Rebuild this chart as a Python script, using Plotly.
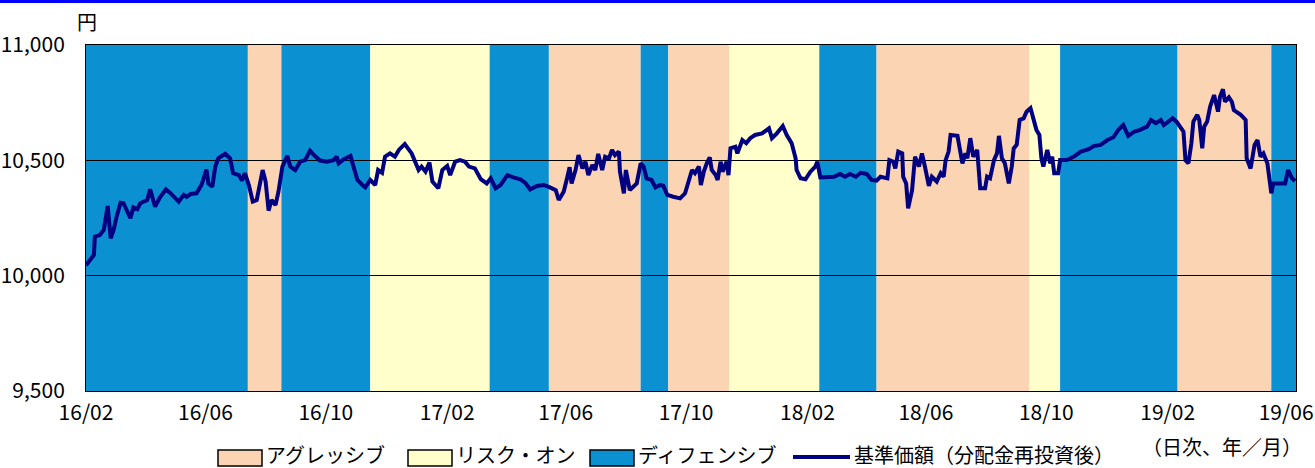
import plotly.graph_objects as go

# ---------------- data ----------------
nav_dates = [
    "2016-02-01", "2016-02-09", "2016-02-10", "2016-02-15", "2016-02-19", "2016-02-23", "2016-02-26", "2016-02-29",
    "2016-03-03", "2016-03-07", "2016-03-10", "2016-03-13", "2016-03-17", "2016-03-20", "2016-03-24", "2016-03-27",
    "2016-04-03", "2016-04-06", "2016-04-11", "2016-04-16", "2016-04-22", "2016-04-26",
    "2016-05-05", "2016-05-10", "2016-05-13", "2016-05-17", "2016-05-23", "2016-05-28",
    "2016-06-02", "2016-06-04", "2016-06-08", "2016-06-11", "2016-06-14", "2016-06-21", "2016-06-26", "2016-06-29",
    "2016-07-05", "2016-07-08", "2016-07-11", "2016-07-15", "2016-07-19", "2016-07-23", "2016-07-27", "2016-07-29",
    "2016-08-01", "2016-08-04", "2016-08-07", "2016-08-11", "2016-08-14", "2016-08-18", "2016-08-23", "2016-08-26", "2016-08-31",
    "2016-09-05", "2016-09-10", "2016-09-15", "2016-09-19", "2016-09-25",
    "2016-10-02", "2016-10-09", "2016-10-12", "2016-10-14", "2016-10-19", "2016-10-26", "2016-10-29",
    "2016-11-02", "2016-11-07", "2016-11-10", "2016-11-15", "2016-11-20", "2016-11-23", "2016-11-27", "2016-11-30",
    "2016-12-05", "2016-12-10", "2016-12-14", "2016-12-20", "2016-12-27",
    "2017-01-03", "2017-01-06", "2017-01-10", "2017-01-14", "2017-01-17", "2017-01-23", "2017-01-27",
    "2017-02-01", "2017-02-04", "2017-02-09", "2017-02-14", "2017-02-19", "2017-02-23",
    "2017-03-01", "2017-03-07", "2017-03-13", "2017-03-17", "2017-03-22", "2017-03-27",
    "2017-04-03", "2017-04-09", "2017-04-16", "2017-04-21", "2017-04-26",
    "2017-05-03", "2017-05-10", "2017-05-16", "2017-05-22", "2017-05-25", "2017-05-30",
    "2017-06-02", "2017-06-05", "2017-06-07", "2017-06-11", "2017-06-14", "2017-06-18", "2017-06-21", "2017-06-24", "2017-06-28",
    "2017-07-01", "2017-07-04", "2017-07-08", "2017-07-11", "2017-07-15", "2017-07-18", "2017-07-21", "2017-07-25", "2017-07-26", "2017-07-30",
    "2017-08-01", "2017-08-05", "2017-08-09", "2017-08-12", "2017-08-16", "2017-08-19", "2017-08-22", "2017-08-27", "2017-08-31",
    "2017-09-05", "2017-09-08", "2017-09-12", "2017-09-18", "2017-09-25", "2017-09-30",
    "2017-10-04", "2017-10-07", "2017-10-10", "2017-10-14", "2017-10-16", "2017-10-19", "2017-10-22", "2017-10-25", "2017-10-27", "2017-10-31",
    "2017-11-02", "2017-11-05", "2017-11-07", "2017-11-11", "2017-11-13", "2017-11-15", "2017-11-20", "2017-11-22", "2017-11-27",
    "2017-12-01", "2017-12-05", "2017-12-10", "2017-12-17", "2017-12-24", "2017-12-27",
    "2018-01-01", "2018-01-07", "2018-01-11", "2018-01-16", "2018-01-20", "2018-01-21", "2018-01-25", "2018-01-30",
    "2018-02-04", "2018-02-09", "2018-02-11", "2018-02-14", "2018-02-21", "2018-02-28",
    "2018-03-06", "2018-03-11", "2018-03-16", "2018-03-22", "2018-03-27",
    "2018-04-02", "2018-04-07", "2018-04-12", "2018-04-16", "2018-04-23", "2018-04-25", "2018-04-29",
    "2018-05-01", "2018-05-04", "2018-05-08", "2018-05-09", "2018-05-12", "2018-05-14", "2018-05-18", "2018-05-21", "2018-05-25", "2018-05-28", "2018-05-31",
    "2018-06-04", "2018-06-07", "2018-06-12", "2018-06-16", "2018-06-19", "2018-06-21", "2018-06-24", "2018-06-26",
    "2018-07-03", "2018-07-08", "2018-07-11", "2018-07-13", "2018-07-16", "2018-07-19", "2018-07-23", "2018-07-26", "2018-07-31",
    "2018-08-02", "2018-08-05", "2018-08-09", "2018-08-12", "2018-08-14", "2018-08-17", "2018-08-20", "2018-08-24", "2018-08-27", "2018-08-29",
    "2018-09-01", "2018-09-04", "2018-09-08", "2018-09-11", "2018-09-15", "2018-09-18", "2018-09-21", "2018-09-24", "2018-09-26", "2018-09-28",
    "2018-10-02", "2018-10-05", "2018-10-07", "2018-10-09", "2018-10-13", "2018-10-15", "2018-10-22", "2018-10-29",
    "2018-11-05", "2018-11-13", "2018-11-18", "2018-11-25",
    "2018-12-02", "2018-12-08", "2018-12-13", "2018-12-18", "2018-12-23", "2018-12-29",
    "2019-01-04", "2019-01-11", "2019-01-15", "2019-01-20", "2019-01-25", "2019-01-28",
    "2019-02-01", "2019-02-06", "2019-02-10", "2019-02-14", "2019-02-17", "2019-02-19", "2019-02-22", "2019-02-25", "2019-02-27",
    "2019-03-03", "2019-03-05", "2019-03-08", "2019-03-10", "2019-03-13", "2019-03-16", "2019-03-20", "2019-03-24", "2019-03-26", "2019-03-29", "2019-03-31",
    "2019-04-04", "2019-04-07", "2019-04-09", "2019-04-16", "2019-04-21", "2019-04-22", "2019-04-26", "2019-04-30",
    "2019-05-03", "2019-05-06", "2019-05-09", "2019-05-13", "2019-05-17", "2019-05-19", "2019-05-26", "2019-05-31",
    "2019-06-03", "2019-06-07", "2019-06-10",
]
nav_values = [
    10045, 10090, 10169, 10176, 10198, 10302, 10162, 10198,
    10256, 10316, 10314, 10285, 10249, 10296, 10288, 10314,
    10328, 10374, 10299, 10340, 10374, 10360,
    10321, 10350, 10342, 10354, 10357, 10393,
    10460, 10400, 10386, 10473, 10509, 10528, 10509, 10444,
    10436, 10412, 10444, 10393, 10321, 10328, 10429, 10458,
    10408, 10282, 10328, 10306, 10364, 10473, 10519, 10473, 10458,
    10494, 10501, 10542, 10523, 10499,
    10494, 10501, 10516, 10487, 10504, 10519, 10473,
    10415, 10393, 10383, 10415, 10393, 10458, 10446, 10516,
    10530, 10516, 10545, 10571, 10530,
    10458, 10473, 10451, 10490, 10408, 10379, 10458,
    10476, 10436, 10494, 10501, 10494, 10473,
    10465, 10418, 10400, 10422, 10379, 10393,
    10436, 10426, 10418, 10403, 10374,
    10389, 10393, 10383, 10371, 10328, 10364,
    10415, 10470, 10400, 10458, 10523, 10465, 10494, 10436, 10480,
    10458, 10528, 10458, 10516, 10509, 10545, 10523, 10538, 10451, 10357,
    10458, 10371, 10389, 10400, 10487, 10473, 10422, 10415, 10383,
    10393, 10389, 10350, 10342, 10335, 10357,
    10422, 10458, 10444, 10473, 10393, 10451, 10487, 10513, 10458, 10436,
    10415, 10494, 10451, 10494, 10436, 10552, 10559, 10530, 10588,
    10574, 10596, 10610, 10617, 10639, 10596,
    10617, 10649, 10610, 10574, 10509, 10458, 10422, 10418,
    10451, 10473, 10494, 10426, 10426, 10429,
    10441, 10429, 10441, 10429, 10446,
    10441, 10415, 10412, 10429, 10422, 10501, 10494,
    10465, 10538, 10530, 10429, 10400, 10292, 10371, 10516, 10473, 10530, 10473,
    10389, 10429, 10408, 10444, 10429, 10501, 10538, 10610,
    10606, 10487, 10530, 10509, 10596, 10516, 10545, 10379, 10379,
    10429, 10422, 10501, 10530, 10606, 10509, 10487, 10400, 10473, 10552,
    10567, 10675, 10682, 10711, 10726, 10675, 10632, 10610, 10509, 10473,
    10545, 10487, 10516, 10444, 10444, 10501, 10501, 10516,
    10538, 10548, 10562, 10567,
    10588, 10600, 10632, 10653, 10606, 10624,
    10632, 10646, 10675, 10661, 10675, 10653,
    10668, 10682, 10668, 10646, 10624, 10501, 10487, 10574, 10668,
    10697, 10675, 10552, 10646, 10668, 10733, 10783, 10711, 10776, 10808, 10754,
    10773, 10754, 10718, 10697, 10675, 10509, 10465, 10567,
    10588, 10516, 10530, 10487, 10357, 10400, 10400, 10400,
    10458, 10422, 10410,
]

regime_start = ["2016-02-01", "2016-07-14", "2016-08-17", "2016-11-15", "2017-03-16", "2017-05-15",
                "2017-08-16", "2017-09-13", "2017-11-14", "2018-02-13", "2018-04-12", "2018-09-14",
                "2018-10-15", "2019-02-11", "2019-05-17"]
regime_end = ["2016-07-14", "2016-08-17", "2016-11-15", "2017-03-16", "2017-05-15", "2017-08-16",
              "2017-09-13", "2017-11-14", "2018-02-13", "2018-04-12", "2018-09-14", "2018-10-15",
              "2019-02-11", "2019-05-17", "2019-06-11"]
regime_type = ["defensive", "aggressive", "defensive", "riskon", "defensive", "aggressive",
               "defensive", "aggressive", "riskon", "defensive", "aggressive", "riskon",
               "defensive", "aggressive", "defensive"]

regime_names = {"aggressive": "アグレッシブ", "riskon": "リスク・オン", "defensive": "ディフェンシブ"}
regime_colors = {"aggressive": "#fbd4b4", "riskon": "#ffffcc", "defensive": "#0b90d2"}

x_tick_vals = ["2016-02-01", "2016-06-01", "2016-10-01", "2017-02-01", "2017-06-01", "2017-10-01",
               "2018-02-01", "2018-06-01", "2018-10-01", "2019-02-01", "2019-06-01"]
x_tick_text = ["16/02", "16/06", "16/10", "17/02", "17/06", "17/10", "18/02", "18/06", "18/10", "19/02", "19/06"]
y_tick_vals = [9500, 10000, 10500, 11000]
y_tick_text = ["9,500", "10,000", "10,500", "11,000"]

nav_name = "基準価額（分配金再投資後）"
unit_label = "円"
note_label = "（日次、年／月）"

# ---------------- figure ----------------
W, H = 1315, 468
ML, MR, MT, MB = 86, 19, 45, 77
PW, PH = W - ML - MR, H - MT - MB
FONT = "Noto Sans CJK JP"
LINE_COLOR = "#000080"


def px_x(px):
    return (px - ML) / PW


def px_y(py):
    return (H - MB - py) / PH


fig = go.Figure()
fig.add_trace(go.Scatter(x=nav_dates, y=nav_values, mode="lines",
                         line=dict(color=LINE_COLOR, width=4), name=nav_name,
                         showlegend=False, hoverinfo="skip"))

shapes = []
for s, e, t in zip(regime_start, regime_end, regime_type):
    shapes.append(dict(type="rect", xref="x", yref="y", x0=s, x1=e, y0=y_tick_vals[0], y1=y_tick_vals[-1],
                       fillcolor=regime_colors[t], line=dict(width=0), layer="below"))

# top blue rule of the page
shapes.append(dict(type="rect", xref="paper", yref="paper", x0=px_x(0), x1=px_x(W),
                   y0=px_y(3), y1=px_y(0), fillcolor="#0000ff", line=dict(width=0), layer="above"))

annotations = [
    dict(text=unit_label, xref="paper", yref="paper", x=px_x(87), y=px_y(21), showarrow=False,
         xanchor="center", yanchor="middle", font=dict(family=FONT, size=20, color="black")),
    dict(text=note_label, xref="paper", yref="paper", x=px_x(1140), y=px_y(446), showarrow=False,
         xanchor="left", yanchor="middle", font=dict(family=FONT, size=20, color="black")),
]

# manual legend
legend_items = [("aggressive", 218), ("riskon", 408), ("defensive", 590)]
for key, x0 in legend_items:
    shapes.append(dict(type="rect", xref="paper", yref="paper", x0=px_x(x0), x1=px_x(x0 + 44),
                       y0=px_y(466), y1=px_y(450), fillcolor=regime_colors[key],
                       line=dict(color="black", width=1.5), layer="above"))
    annotations.append(dict(text=regime_names[key], xref="paper", yref="paper", x=px_x(x0 + 46), y=px_y(455),
                            showarrow=False, xanchor="left", yanchor="middle",
                            font=dict(family=FONT, size=20, color="black")))
shapes.append(dict(type="line", xref="paper", yref="paper", x0=px_x(793), x1=px_x(850),
                   y0=px_y(457), y1=px_y(457), line=dict(color=LINE_COLOR, width=4), layer="above"))
annotations.append(dict(text=nav_name, xref="paper", yref="paper", x=px_x(852), y=px_y(455),
                        showarrow=False, xanchor="left", yanchor="middle",
                        font=dict(family=FONT, size=20, color="black")))

fig.update_layout(
    width=W, height=H,
    margin=dict(l=ML, r=MR, t=MT, b=MB, pad=0, autoexpand=False),
    paper_bgcolor="white", plot_bgcolor="white",
    font=dict(family=FONT, size=20, color="black"),
    showlegend=False,
    shapes=shapes,
    annotations=annotations,
    xaxis=dict(type="date", range=[regime_start[0], regime_end[-1]], automargin=False,
               tickmode="array", tickvals=x_tick_vals, ticktext=x_tick_text,
               showgrid=False, zeroline=False, showline=True, mirror=True,
               linecolor="black", linewidth=1, ticks="", ticklabelstandoff=3,
               tickfont=dict(family=FONT, size=21, color="black")),
    yaxis=dict(range=[y_tick_vals[0], y_tick_vals[-1]], automargin=False,
               tickmode="array", tickvals=y_tick_vals, ticktext=y_tick_text,
               showgrid=True, gridcolor="black", gridwidth=1, zeroline=False,
               showline=True, mirror=True, linecolor="black", linewidth=1,
               ticks="", ticklabelstandoff=16,
               tickfont=dict(family=FONT, size=21, color="black")),
)

fig.write_html("out.html", config={"displayModeBar": False},
               post_script="document.body.style.margin='0';document.body.style.overflow='hidden';")
